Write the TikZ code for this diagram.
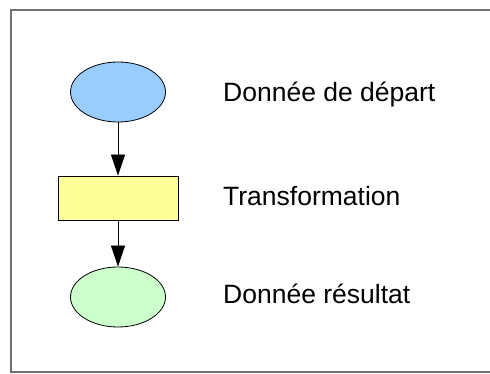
\documentclass[tikz,border=0pt]{standalone}
\usepackage{fontspec}
\setmainfont{Liberation Sans}
\usepackage{tikz}
\usetikzlibrary{positioning,arrows.meta,shapes.geometric}
\definecolor{DataBlue}{HTML}{99CCFF}
\definecolor{StepYellow}{HTML}{FFFF99}
\definecolor{ResultGreen}{HTML}{CCFFCC}
\definecolor{FrameGray}{HTML}{707070}

\begin{document}
\begin{tikzpicture}[
        x=1pt, y=-1pt,
        data/.style={
            ellipse,
            draw=black,
            line width=0.8pt,
            minimum width=95pt,
            minimum height=60pt,
            inner sep=0pt
        },
        stepbox/.style={
            rectangle,
            draw=black,
            line width=0.8pt,
            fill=StepYellow,
            minimum width=120pt,
            minimum height=44pt,
            inner sep=0pt
        },
        txt/.style={
            anchor=base west,
            inner sep=0pt,
            font=\fontsize{26.5}{30}\selectfont
        },
        arr/.style={-{Triangle[length=21pt, width=14pt]}, line width=0.8pt, black}
    ]
        \useasboundingbox (0,0) rectangle (490,374);
        % cadre
        \draw[FrameGray, line width=2pt] (491,10) -- (11,10) -- (11,372) -- (491,372);

        \node[data, fill=DataBlue] (depart) at (118,92) {};
        \node[stepbox] (transfo) at (118,198) {};
        \node[data, fill=ResultGreen] (resultat) at (118,297) {};

        \draw[arr] (depart) -- (transfo);
        \draw[arr] (transfo) -- (resultat);

        \node[txt] (lbldepart) at (223,102) {Donnée de départ};
        \node[txt] (lbltransfo) at (223,206) {Transformation};
        \node[txt] (lblresultat) at (223,303) {Donnée résultat};
    \end{tikzpicture}
\end{document}
